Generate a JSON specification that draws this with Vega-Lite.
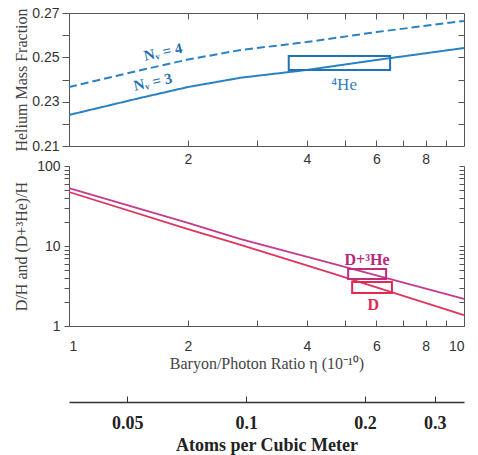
{
  "$schema": "https://vega.github.io/schema/vega-lite/v6.json",
  "background": "white",
  "padding": {"left": 12, "top": 6, "right": 4, "bottom": 2},
  "spacing": 20,
  "bounds": "flush",
  "config": {
    "view": {"stroke": null},
    "axis": {
      "grid": false,
      "domainColor": "#555555",
      "tickColor": "#555555",
      "labelFont": "Liberation Sans",
      "labelFontSize": 14,
      "labelColor": "#333333",
      "titleFont": "Liberation Serif",
      "titleFontWeight": "normal",
      "titleFontSize": 16,
      "titleColor": "#444444"
    }
  },
  "datasets": {
    "he": [
      {"eta": 1, "Y": 0.224, "nnu": "3"},
      {"eta": 1.5, "Y": 0.2315, "nnu": "3"},
      {"eta": 2, "Y": 0.2366, "nnu": "3"},
      {"eta": 2.72, "Y": 0.2408, "nnu": "3"},
      {"eta": 4, "Y": 0.2443, "nnu": "3"},
      {"eta": 6, "Y": 0.2488, "nnu": "3"},
      {"eta": 10, "Y": 0.2542, "nnu": "3"},
      {"eta": 1, "Y": 0.2366, "nnu": "4"},
      {"eta": 1.5, "Y": 0.244, "nnu": "4"},
      {"eta": 2, "Y": 0.249, "nnu": "4"},
      {"eta": 2.72, "Y": 0.2533, "nnu": "4"},
      {"eta": 4, "Y": 0.2569, "nnu": "4"},
      {"eta": 6, "Y": 0.2614, "nnu": "4"},
      {"eta": 10, "Y": 0.2664, "nnu": "4"}
    ],
    "hebox": [{"x1": 3.6, "x2": 6.5, "y1": 0.2443, "y2": 0.2506}],
    "helabels": [
      {"eta": 1.73, "Y": 0.2525, "t": "Nᵥ = 4"},
      {"eta": 1.63, "Y": 0.239, "t": "Nᵥ = 3"}
    ],
    "he4label": [{"eta": 4.97, "Y": 0.2375, "t": "⁴He"}],
    "dh": [
      {"eta": 1, "v": 53, "s": "D+3He"},
      {"eta": 2, "v": 19.5, "s": "D+3He"},
      {"eta": 2.72, "v": 12.2, "s": "D+3He"},
      {"eta": 4.6, "v": 6.1, "s": "D+3He"},
      {"eta": 10, "v": 2.18, "s": "D+3He"},
      {"eta": 1, "v": 47.3, "s": "D"},
      {"eta": 2, "v": 16.3, "s": "D"},
      {"eta": 2.72, "v": 10.3, "s": "D"},
      {"eta": 4.6, "v": 4.6, "s": "D"},
      {"eta": 10, "v": 1.37, "s": "D"}
    ],
    "dhbox": [
      {"x1": 5.09, "x2": 6.35, "y1": 3.87, "y2": 5.16, "s": "D+3He"},
      {"x1": 5.21, "x2": 6.57, "y1": 2.58, "y2": 3.55, "s": "D"}
    ],
    "dhlabels": [
      {"eta": 5.68, "v": 6.68, "t": "D+³He", "s": "D+3He"},
      {"eta": 5.89, "v": 1.83, "t": "D", "s": "D"}
    ],
    "atoms": [{"a": 0.05}, {"a": 0.3}]
  },
  "vconcat": [
    {
      "width": 395,
      "height": 133,
      "layer": [
        {
          "data": {"name": "he"},
          "mark": {"type": "line", "color": "#2a82c2", "strokeWidth": 2},
          "encoding": {
            "x": {
              "field": "eta", "type": "quantitative",
              "scale": {"type": "log", "domain": [1, 10]},
              "axis": {
                "orient": "bottom", "title": null,
                "values": [2, 3, 4, 5, 6, 7, 8, 9],
                "labelExpr": "indexof([2,4,6,8], datum.value) >= 0 ? datum.label : ''",
                "tickSize": -6, "labelPadding": 12
              }
            },
            "y": {
              "field": "Y", "type": "quantitative",
              "scale": {"domain": [0.21, 0.27], "zero": false},
              "axis": {
                "orient": "left", "title": "Helium Mass Fraction",
                "values": [0.21, 0.22, 0.23, 0.24, 0.25, 0.26, 0.27],
                "format": ".2f",
                "labelExpr": "indexof(['0.21','0.23','0.25','0.27'], datum.label) >= 0 ? datum.label : ''",
                "tickSize": 7, "labelPadding": 3,
                "minExtent": 36, "maxExtent": 36, "titlePadding": 4
              }
            },
            "strokeDash": {
              "field": "nnu", "type": "nominal",
              "scale": {"domain": ["3", "4"], "range": [[1, 0], [8, 4]]},
              "legend": null
            }
          }
        },
        {
          "data": {"name": "he"},
          "mark": {"type": "point", "opacity": 0},
          "encoding": {
            "x": {
              "field": "eta", "type": "quantitative",
              "axis": {"orient": "top", "title": null, "labels": false, "values": [2, 3, 4, 5, 6, 7, 8, 9], "tickSize": -6}
            },
            "y": {
              "field": "Y", "type": "quantitative",
              "axis": {"orient": "right", "title": null, "labels": false, "values": [0.22, 0.23, 0.24, 0.25, 0.26], "tickSize": -6}
            }
          }
        },
        {
          "data": {"name": "hebox"},
          "mark": {"type": "rect", "fill": null, "stroke": "#1f74b8", "strokeWidth": 2},
          "encoding": {
            "x": {"field": "x1", "type": "quantitative", "axis": null},
            "x2": {"field": "x2"},
            "y": {"field": "y1", "type": "quantitative", "axis": null},
            "y2": {"field": "y2"}
          }
        },
        {
          "data": {"name": "helabels"},
          "mark": {"type": "text", "font": "Liberation Serif", "fontWeight": "bold", "fontSize": 15, "color": "#1f6fae", "angle": -12},
          "encoding": {
            "x": {"field": "eta", "type": "quantitative", "axis": null},
            "y": {"field": "Y", "type": "quantitative", "axis": null},
            "text": {"field": "t"}
          }
        },
        {
          "data": {"name": "he4label"},
          "mark": {"type": "text", "font": "Liberation Serif", "fontSize": 17, "color": "#3580c0"},
          "encoding": {
            "x": {"field": "eta", "type": "quantitative", "axis": null},
            "y": {"field": "Y", "type": "quantitative", "axis": null},
            "text": {"field": "t"}
          }
        }
      ]
    },
    {
      "width": 395,
      "height": 160,
      "layer": [
        {
          "data": {"name": "dh"},
          "mark": {"type": "line", "strokeWidth": 1.8},
          "encoding": {
            "x": {
              "field": "eta", "type": "quantitative",
              "scale": {"type": "log", "domain": [1, 10]},
              "axis": {
                "orient": "bottom", "title": "Baryon/Photon Ratio η (10⁻¹⁰)",
                "values": [1, 2, 3, 4, 5, 6, 7, 8, 9, 10],
                "labelExpr": "indexof([1,2,4,6,8,10], datum.value) >= 0 ? datum.label : ''",
                "tickSize": -6, "labelPadding": 19, "titlePadding": 2
              }
            },
            "y": {
              "field": "v", "type": "quantitative",
              "scale": {"type": "log", "domain": [1, 100]},
              "axis": {
                "orient": "left", "title": "D/H and (D+³He)/H",
                "values": [1, 2, 3, 4, 5, 6, 7, 8, 9, 10, 20, 30, 40, 50, 60, 70, 80, 90, 100],
                "labelExpr": "indexof([1,10,100], datum.value) >= 0 ? datum.label : ''",
                "tickSize": 5, "labelPadding": 4,
                "minExtent": 36, "maxExtent": 36, "titlePadding": 4
              }
            },
            "color": {
              "field": "s", "type": "nominal",
              "scale": {"domain": ["D+3He", "D"], "range": ["#c63a8c", "#e0345c"]},
              "legend": null
            },
            "detail": {"field": "s"}
          }
        },
        {
          "data": {"name": "dh"},
          "mark": {"type": "point", "opacity": 0},
          "encoding": {
            "x": {
              "field": "eta", "type": "quantitative",
              "axis": {"orient": "top", "title": null, "labels": false, "ticks": false, "domain": false}
            },
            "y": {
              "field": "v", "type": "quantitative",
              "axis": {"orient": "right", "title": null, "labels": false,
                "values": [1, 2, 3, 4, 5, 6, 7, 8, 9, 10, 20, 30, 40, 50, 60, 70, 80, 90, 100], "tickSize": -5}
            }
          }
        },
        {
          "data": {"name": "dhbox"},
          "mark": {"type": "rect", "fill": null, "strokeWidth": 2},
          "encoding": {
            "x": {"field": "x1", "type": "quantitative", "axis": null},
            "x2": {"field": "x2"},
            "y": {"field": "y1", "type": "quantitative", "axis": null},
            "y2": {"field": "y2"},
            "stroke": {
              "field": "s", "type": "nominal",
              "scale": {"domain": ["D+3He", "D"], "range": ["#c02c80", "#e02a50"]},
              "legend": null
            }
          }
        },
        {
          "data": {"name": "dhlabels"},
          "mark": {"type": "text", "font": "Liberation Serif", "fontWeight": "bold", "fontSize": 16},
          "encoding": {
            "x": {"field": "eta", "type": "quantitative", "axis": null},
            "y": {"field": "v", "type": "quantitative", "axis": null},
            "text": {"field": "t"},
            "color": {
              "field": "s", "type": "nominal",
              "scale": {"domain": ["D+3He", "D"], "range": ["#b8287a", "#e02a50"]},
              "legend": null
            }
          }
        }
      ],
      "resolve": {"scale": {"color": "independent", "stroke": "independent"}}
    },
    {
      "width": 395,
      "height": 56,
      "data": {"name": "atoms"},
      "mark": {"type": "point", "opacity": 0},
      "encoding": {
        "x": {
          "field": "a", "type": "quantitative",
          "scale": {"type": "log", "domain": [0.0356, 0.356]},
          "axis": {
            "orient": "bottom", "title": "Atoms per Cubic Meter",
            "values": [0.05, 0.1, 0.2, 0.3], "format": "~g",
            "tickSize": -6, "labelPadding": 18,
            "domainColor": "#333333", "domainWidth": 1.5, "tickColor": "#333333",
            "labelFont": "Liberation Serif", "labelFontWeight": "bold", "labelFontSize": 18, "labelColor": "#222222",
            "titleFont": "Liberation Serif", "titleFontWeight": "bold", "titleFontSize": 18, "titleColor": "#222222",
            "titlePadding": 4
          }
        }
      }
    }
  ]
}
